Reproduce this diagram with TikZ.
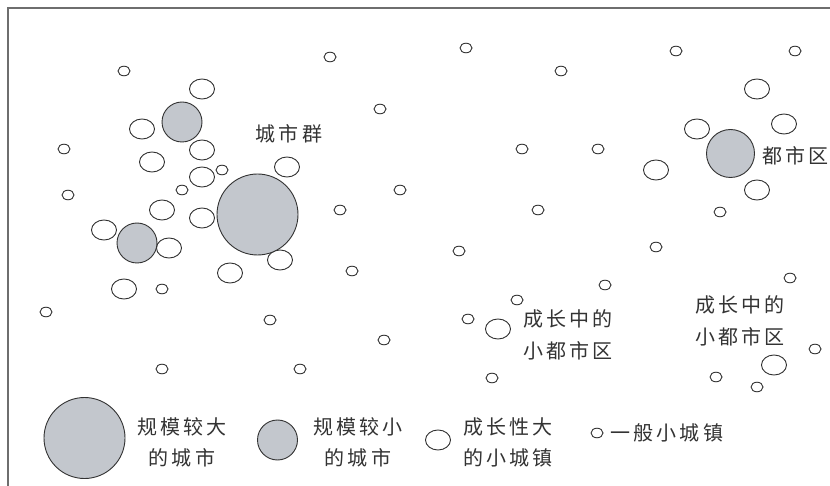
\documentclass[tikz,border=0pt]{standalone}
\usepackage{fontspec}
\newfontfamily\cjk[LetterSpace=16]{Noto Sans CJK SC}
\definecolor{cityfill}{RGB}{195,199,205}
\definecolor{edge}{RGB}{50,50,50}
\definecolor{framec}{RGB}{110,110,110}
\tikzset{
  town/.style={draw=edge,line width=0.9pt,fill=white},
  city/.style={draw=edge,line width=0.9pt,fill=cityfill},
  lbl/.style={inner sep=0pt,align=center,font=\cjk\fontsize{20}{31.6}\selectfont,text=black!80},
}
\begin{document}
\begin{tikzpicture}[x=1pt,y=-1pt]
\useasboundingbox (0,0) rectangle (830,486);
\fill[white] (0,0) rectangle (830,486);
\draw[framec,line width=1.6pt] (8,486) coordinate (fb) -- (8,8) coordinate (fc) -- (830,8) coordinate (fr);
% small towns
\foreach \p in {(124,71),(64,149),(222,170),(182,190),(68,195),(330,57),(466,48),(380,109),
  (522,149),(400,190),(340,210),(538,210),(459,251),(561,71),(676,51),(795,51),(598,149),
  (720,212),(656,247),(605,285),(790,278),(815,349),(716,377),(757,387),
  (162,289),(46,312),(352,271),(270,320),(384,340),(162,369),(300,369),(517,300),(468,319),(492,378),
  (597,433)}
  \draw[town] \p ellipse[x radius=6,y radius=4.8];
% medium towns
\foreach \p in {(202,89),(142,129),(202,150),(152,162),(202,177),(162,210),(202,218),(104,230),
  (169,248),(287,167),(230,273),(124,289),(280,260),(498,329),(757,89),(784,124),(697,129),
  (656,170),(757,190),(774,365),(438,440)}
  \draw[town] \p ellipse[x radius=12.5,y radius=10];
% cities
\draw[city] (182,122) circle[radius=20];
\draw[city] (137,243) circle[radius=20];
\draw[city] (257.5,214.5) circle[radius=40.5];
\draw[city] (730.5,153.5) circle[radius=24];
\draw[city] (84.5,438) circle[radius=40.5];
\draw[city] (277.5,440) circle[radius=20];
% labels
\node[lbl] (l1) at (289,134) {城市群};
\node[lbl,anchor=west] (l2) at (762,156) {都市区};
\node[lbl] (l3) at (568,335) {成长中的\\小都市区};
\node[lbl] (l4) at (740,321) {成长中的\\小都市区};
\node[lbl] (l5) at (182,442.5) {规模较大\\的城市};
\node[lbl] (l6) at (358,442.5) {规模较小\\的城市};
\node[lbl] (l7) at (508,442.5) {成长性大\\的小城镇};
\node[lbl,anchor=west] (l8) at (610,433) {一般小城镇};
\end{tikzpicture}
\end{document}
